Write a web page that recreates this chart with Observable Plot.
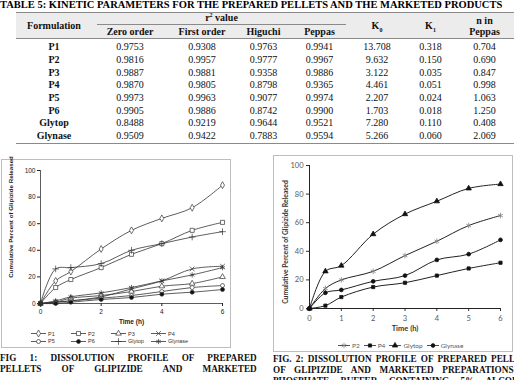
<!DOCTYPE html>
<html>
<head>
<meta charset="utf-8">
<script src="https://cdn.jsdelivr.net/npm/d3@7"></script>
<script src="https://cdn.jsdelivr.net/npm/@observablehq/plot@0.6"></script>
<style>
  html, body { margin: 0; padding: 0; background: #fff; }
  #page { position: relative; width: 514px; height: 380px; overflow: hidden; background: #fff; }
  .title { position: absolute; left: 0; top: 0; font: bold 10.5px "Liberation Serif", serif; white-space: nowrap; line-height: 10px; }
  table.kin { position: absolute; left: 16px; top: 12px; border-collapse: collapse; table-layout: fixed;
    font-family: "Liberation Serif", serif; font-size: 10px; color: #111; border-top: 1.5px solid #8a8a8a; border-bottom: 1.5px solid #8a8a8a; }
  table.kin th, table.kin td { padding: 0; text-align: center; line-height: 10px; white-space: nowrap; }
  table.kin thead th { background: #ececec; font-weight: bold; }
  table.kin thead tr.h1 th { height: 12.5px; }
  table.kin thead tr.h2 th { height: 12.5px; border-bottom: 1px solid #8a8a8a; }
  table.kin tbody td { height: 12.7px; }
  table.kin tbody tr:first-child td { padding-top: 2px; }
  table.kin tbody td.name { font-weight: bold; }
  .r2 { border-bottom: 1px solid #8a8a8a; margin: 0 2px 0 5px; padding-bottom: 1px; }
  .box { position: absolute; border: 1px solid #bdbdbd; box-sizing: border-box; }
  .chart { position: absolute; }
  .chart svg { overflow: visible; }
  .legend1 { position: absolute; left: 31px; top: 330px; display: grid; grid-template-columns: 40px 40px 40px 40px; row-gap: 0;
    font: 5.5px "Liberation Sans", Arial, sans-serif; color: #333; }
  .legend1 div, .legend2 div { display: flex; align-items: center; height: 7.5px; white-space: nowrap; }
  .legend2 { position: absolute; left: 338px; top: 342px; display: flex; gap: 4px; font: 6.5px Lato, sans-serif; color: #595959; }
  .legend1 svg, .legend2 svg { margin-right: 2px; }
  .cap { position: absolute; width: 282px; transform: scaleX(0.92); transform-origin: 0 0;
    font: bold 10px "Liberation Serif", serif; line-height: 11px; color: #111; }
  .cap div { text-align: justify; text-align-last: justify; white-space: nowrap; }
</style>
</head>
<body>
<div id="page">
  <div class="title">TABLE 5: KINETIC PARAMETERS FOR THE PREPARED PELLETS AND THE MARKETED PRODUCTS</div>
  <table class="kin" id="kin"></table>
  <div class="box" style="left:1px;top:159px;width:230px;height:189px;"></div>
  <div class="box" style="left:273px;top:155px;width:240px;height:197px;"></div>
  <div class="chart" id="fig1" style="left:0px;top:160px;width:230px;"></div>
  <div class="chart" id="fig2" style="left:255px;top:155px;width:255px;"></div>
  <div class="legend1" id="legend1"></div>
  <div class="legend2" id="legend2"></div>
  <div class="cap" style="left:0px;top:351.5px;width:279px;">
    <div>FIG 1: DISSOLUTION PROFILE OF PREPARED</div>
    <div>PELLETS OF GLIPIZIDE AND MARKETED</div>
  </div>
  <div class="cap" style="left:273px;top:352.5px;">
    <div>FIG. 2: DISSOLUTION PROFILE OF PREPARED PELLETS</div>
    <div>OF GLIPIZIDE AND MARKETED PREPARATIONS IN</div>
    <div>PHOSPHATE BUFFER CONTAINING 5% ALCOHOL</div>
  </div>
</div>
<script>
// ---- Table 5: kinetic parameters ----
const formulations = ["P1", "P2", "P3", "P4", "P5", "P6", "Glytop", "Glynase"];
const zeroOrder  = [0.9753, 0.9816, 0.9887, 0.9870, 0.9973, 0.9905, 0.8488, 0.9509];
const firstOrder = [0.9308, 0.9957, 0.9881, 0.9805, 0.9963, 0.9886, 0.9219, 0.9422];
const higuchi    = [0.9763, 0.9777, 0.9358, 0.8798, 0.9077, 0.8742, 0.9644, 0.7883];
const peppas     = [0.9941, 0.9967, 0.9886, 0.9365, 0.9974, 0.9900, 0.9521, 0.9594];
const k0         = [13.708, 9.632, 3.122, 4.461, 2.207, 1.703, 7.280, 5.266];
const k1         = [0.318, 0.150, 0.035, 0.051, 0.024, 0.018, 0.110, 0.060];
const nPeppas    = [0.704, 0.690, 0.847, 0.998, 1.063, 1.250, 0.408, 2.069];

// ---- Dissolution profiles: time (h) and cumulative % glipizide released ----
const times = [0, 0.5, 1, 2, 3, 4, 5, 6];

// Fig 1
const fig1Names = ["P1", "P2", "P3", "P4", "P5", "P6", "Glytop", "Glynase"];
const fig1P1      = [0, 17, 24, 41, 55, 64, 72, 89];
const fig1P2      = [0, 12, 18, 27, 37, 45, 55, 61];
const fig1P3      = [0, 1, 4, 6, 9, 13, 15, 20];
const fig1P4      = [0, 1, 2, 5, 11, 17, 26, 28];
const fig1P5      = [0, 1, 2, 4, 6, 9, 12, 13.5];
const fig1P6      = [0, 0, 1, 3, 4.5, 7, 8.5, 10.5];
const fig1Glytop  = [0, 26, 27, 30, 40, 45, 50, 54];
const fig1Glynase = [0, 2, 5, 8, 12, 17, 21.5, 27];

// Fig 2
const fig2Names = ["P2", "P4", "Glytop", "Glynase"];
const fig2P2      = [0, 14, 20, 26, 37, 47, 58, 65];
const fig2P4      = [0, 2, 8, 15, 18, 23, 28, 32];
const fig2Glytop  = [0, 26, 30, 52, 66, 75, 84, 87];
const fig2Glynase = [0, 11, 13, 19, 23, 34, 38, 48];

// axis ticks
const yTicks = [0, 20, 40, 60, 80, 100];
const fig1XTicks = [0, 2, 4, 6];
const fig2XTicks = [0, 1, 2, 3, 4, 5, 6];

// ---- build the table ----
const fmt4 = d3.format(".4f"), fmt3 = d3.format(".3f");
const table = document.getElementById("kin");
const widths = [76, 76, 68, 55, 57, 58, 49, 59];
table.innerHTML =
  `<colgroup>${widths.map(w => `<col style="width:${w}px">`).join("")}</colgroup>` +
  `<thead>
     <tr class="h1">
       <th rowspan="2" style="border-bottom:1px solid #8a8a8a">Formulation</th>
       <th colspan="4"><div class="r2">r<sup style="font-size:6px;line-height:0">2</sup> value</div></th>
       <th rowspan="2" style="border-bottom:1px solid #8a8a8a">K<sub style="font-size:6px;line-height:0">0</sub></th>
       <th rowspan="2" style="border-bottom:1px solid #8a8a8a">K<sub style="font-size:6px;line-height:0">1</sub></th>
       <th rowspan="2" style="border-bottom:1px solid #8a8a8a;line-height:11px">n in<br>Peppas</th>
     </tr>
     <tr class="h2"><th>Zero order</th><th>First order</th><th>Higuchi</th><th>Peppas</th></tr>
   </thead>` +
  `<tbody>${formulations.map((f, i) => `<tr>
     <td class="name">${f}</td><td>${fmt4(zeroOrder[i])}</td><td>${fmt4(firstOrder[i])}</td>
     <td>${fmt4(higuchi[i])}</td><td>${fmt4(peppas[i])}</td><td>${fmt3(k0[i])}</td>
     <td>${fmt3(k1[i])}</td><td>${fmt3(nPeppas[i])}</td></tr>`).join("")}</tbody>`;

// ---- long-format rows ----
function rowsFor(names, columns) {
  return names.flatMap((name, k) => times.map((t, i) => ({series: name, time: t, value: columns[k][i]})));
}
const fig1Rows = rowsFor(fig1Names, [fig1P1, fig1P2, fig1P3, fig1P4, fig1P5, fig1P6, fig1Glytop, fig1Glynase]);
const fig2Rows = rowsFor(fig2Names, [fig2P2, fig2P4, fig2Glytop, fig2Glynase]);

// marker styles
const fig1Style = {
  P1: {symbol: "diamond", fill: "#fff", r: 2.1},
  P2: {symbol: "square", fill: "#fff", r: 2.3},
  P3: {symbol: "triangle", fill: "#fff", r: 2.1},
  P4: {symbol: "times", fill: "none", r: 2.3},
  P5: {symbol: "circle", fill: "#fff", r: 2.0},
  P6: {symbol: "circle", fill: "#111", r: 2.0},
  Glytop: {symbol: "plus", fill: "none", r: 2.3},
  Glynase: {symbol: "asterisk", fill: "none", r: 2.5}
};
const fig2Style = {
  P2: {symbol: "asterisk", fill: "none", stroke: "#808080", r: 2.6},
  P4: {symbol: "square", fill: "#111", stroke: "#111", r: 1.8},
  Glytop: {symbol: "triangle", fill: "#111", stroke: "#111", r: 2.0},
  Glynase: {symbol: "circle", fill: "#111", stroke: "#111", r: 1.9}
};

// ---- Fig 1 ----
const fig1 = Plot.plot({
  width: 230, height: 170,
  marginLeft: 40, marginRight: 8, marginTop: 10, marginBottom: 27,
  x: {domain: [0, 6]},
  y: {domain: [0, 100]},
  style: {fontFamily: "'Liberation Sans', Arial, sans-serif", fontSize: "6.5px", color: "#222", background: "transparent", overflow: "visible"},
  marks: [
    Plot.axisY({ticks: yTicks, tickFormat: d => String(d), tickSize: 3, tickPadding: 2, label: null}),
    Plot.axisX({ticks: fig1XTicks, tickFormat: d => String(d), tickSize: 3, tickPadding: 3, label: null}),
    Plot.ruleX([0], {stroke: "#333", strokeWidth: 0.8}),
    Plot.ruleY([0], {stroke: "#333", strokeWidth: 0.8}),
    ...fig1Names.flatMap(name => {
      const data = fig1Rows.filter(d => d.series === name);
      const s = fig1Style[name];
      return [
        Plot.line(data, {x: "time", y: "value", stroke: "#333", strokeWidth: 0.8, curve: "catmull-rom"}),
        Plot.dot(data, {x: "time", y: "value", symbol: s.symbol, r: s.r, fill: s.fill, stroke: "#333", strokeWidth: 0.7})
      ];
    }),
    Plot.text(["Cumulative Percent of Glipizide Released"], {frameAnchor: "left", textAnchor: "middle", rotate: -90, dx: -29, dy: -20, fontWeight: "bold", fontSize: 6.2, fill: "#222"}),
    Plot.text(["Time (h)"], {frameAnchor: "bottom", dy: 20, fontWeight: "bold", fontSize: 6.5, fill: "#222"})
  ]
});
document.getElementById("fig1").appendChild(fig1);

// ---- Fig 2 ----
const fig2 = Plot.plot({
  width: 255, height: 185,
  marginLeft: 54, marginRight: 10, marginTop: 10, marginBottom: 32,
  x: {domain: [0, 6]},
  y: {domain: [0, 100]},
  style: {fontFamily: "Lato, 'Open Sans', sans-serif", fontSize: "7.5px", color: "#595959", background: "transparent", overflow: "visible"},
  marks: [
    Plot.axisY({ticks: yTicks, tickFormat: d => String(d), tickSize: 3, tickPadding: 3, label: null, stroke: "#333", fill: "#595959"}),
    Plot.axisX({ticks: fig2XTicks, tickFormat: d => String(d), tickSize: 3, tickPadding: 4, label: null, stroke: "#333", fill: "#595959"}),
    Plot.ruleX([0], {stroke: "#222", strokeWidth: 1}),
    Plot.ruleY([0], {stroke: "#222", strokeWidth: 1}),
    ...fig2Names.flatMap(name => {
      const data = fig2Rows.filter(d => d.series === name);
      const s = fig2Style[name];
      return [
        Plot.line(data, {x: "time", y: "value", stroke: "#222", strokeWidth: 1, curve: "catmull-rom"}),
        Plot.dot(data, {x: "time", y: "value", symbol: s.symbol, r: s.r, fill: s.fill, stroke: s.stroke, strokeWidth: 0.8})
      ];
    }),
    Plot.text(["Cumulative Percent of Glipizide Released"], {frameAnchor: "left", textAnchor: "middle", rotate: -90, dx: -24, dy: 5, fontWeight: "bold", fontSize: 6.8, fill: "#333"}),
    Plot.text(["Time (h)"], {frameAnchor: "bottom", dy: 22, fontWeight: "bold", fontSize: 7.5, fill: "#333"})
  ]
});
document.getElementById("fig2").appendChild(fig2);

// ---- legends ----
const symbolTypes = {
  diamond: d3.symbolDiamond, square: d3.symbolSquare, triangle: d3.symbolTriangle,
  times: d3.symbolTimes, circle: d3.symbolCircle, plus: d3.symbolPlus, asterisk: d3.symbolAsterisk
};
function swatch(s, lineColor, w, h) {
  const path = d3.symbol(symbolTypes[s.symbol], Math.PI * s.r * s.r)();
  return `<svg width="${w}" height="${h}" style="overflow:visible">
    <line x1="0" x2="${w}" y1="${h / 2}" y2="${h / 2}" stroke="${lineColor}" stroke-width="0.8"/>
    <path d="${path}" transform="translate(${w / 2},${h / 2})" fill="${s.fill}" stroke="${s.stroke || lineColor}" stroke-width="0.7"/>
  </svg>`;
}
document.getElementById("legend1").innerHTML = fig1Names
  .map(name => `<div>${swatch(fig1Style[name], "#333", 15, 7)}${name}</div>`).join("");
document.getElementById("legend2").innerHTML = fig2Names
  .map(name => `<div>${swatch(fig2Style[name], "#222", 12, 7)}${name}</div>`).join("");
</script>
</body>
</html>
